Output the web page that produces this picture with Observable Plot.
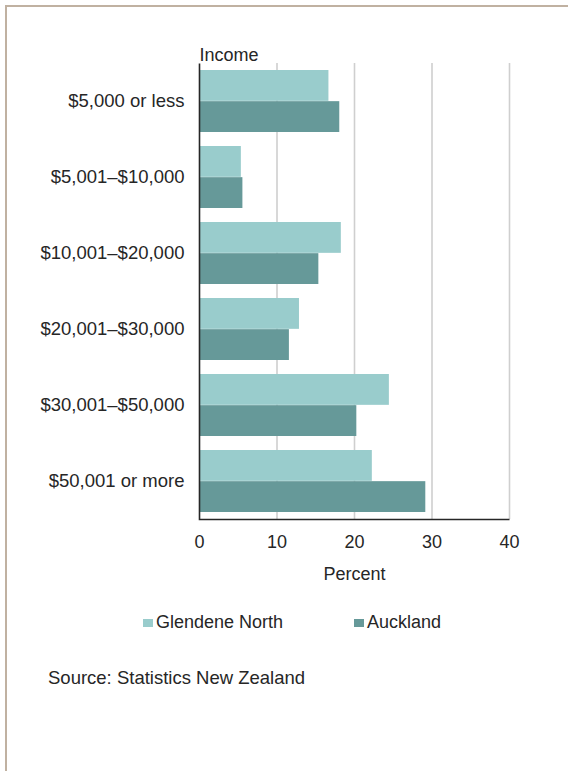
<!DOCTYPE html>
<html><head><meta charset="utf-8">
<script src="https://cdn.jsdelivr.net/npm/d3@7"></script>
<script src="https://cdn.jsdelivr.net/npm/@observablehq/plot@0.6"></script>
<style>
html,body{margin:0;padding:0;background:#fff;width:568px;height:771px;overflow:hidden;font-family:"Liberation Sans",Arial,sans-serif;color:#262626;}
#border{position:absolute;left:5px;top:5px;width:700px;height:900px;border-left:2px solid #c0b1a1;border-top:2px solid #c0b1a1;}
#chart{position:absolute;left:0;top:0;}
#legend{position:absolute;top:612px;left:0;width:568px;height:22px;font-size:18px;}
.item{position:absolute;display:flex;align-items:center;}
.sw{width:10px;height:8px;margin-right:3px;}
#source{position:absolute;left:48px;top:667px;font-size:18.5px;}
</style></head>
<body>
<div id="border"></div>
<div id="chart"></div>
<div id="legend"></div>
<div id="source">Source: Statistics New Zealand</div>
<script>
const categories = ["$5,000 or less","$5,001–$10,000","$10,001–$20,000","$20,001–$30,000","$30,001–$50,000","$50,001 or more"];
const seriesNames = ["Glendene North","Auckland"];
const glendene = [16.7, 5.4, 18.3, 12.9, 24.5, 22.3];
const auckland = [18.1, 5.6, 15.4, 11.6, 20.3, 29.2];
const xTicks = [0, 10, 20, 30, 40];
const colors = ["#99cccc","#669999"];

const W = 568, H = 600, mL = 199, mR = 59, mT = 63, mB = 81;
const w = W - mL - mR, h = H - mT - mB;
const padInner = 0.18, padOuter = 0.09;
const step = h / (categories.length - padInner + 2 * padOuter);
const band = step * (1 - padInner);
const half = band / 2;

const gData = categories.map((c, i) => ({cat: c, value: glendene[i]}));
const aData = categories.map((c, i) => ({cat: c, value: auckland[i]}));

const chart = Plot.plot({
  width: W, height: H,
  marginLeft: mL, marginRight: mR, marginTop: mT, marginBottom: mB,
  style: {fontFamily: '"Liberation Sans", Arial, sans-serif', fontSize: "18px", color: "#262626", background: "transparent"},
  x: {domain: [0, 40], ticks: xTicks, label: "Percent"},
  y: {domain: categories, paddingInner: padInner, paddingOuter: padOuter, label: null},
  marks: [
    Plot.ruleX(xTicks.slice(1), {stroke: "#cfcfcf", strokeWidth: 1.6}),
    Plot.barX(gData, {x: "value", y: "cat", fill: colors[0], insetBottom: half}),
    Plot.barX(aData, {x: "value", y: "cat", fill: colors[1], insetTop: half}),
    Plot.frame({stroke: "#262626", strokeWidth: 1.6, strokeDasharray: `0 ${w + h} ${w + h}`}),
    Plot.axisX({tickSize: 0, tickPadding: 16, label: "Percent", labelAnchor: "center", labelOffset: 60, labelArrow: "none", fontSize: 18, dx: 0}),
    Plot.axisY({tickSize: 0, tickPadding: 15, label: null, fontSize: 18.5}),
    Plot.text(["Income"], {frameAnchor: "top-left", textAnchor: "start", lineAnchor: "bottom", dy: -3, fontSize: 18, fill: "#262626"})
  ]
});
document.getElementById("chart").appendChild(chart);

const legend = document.getElementById("legend");
const positions = [143, 354];
seriesNames.forEach((s, i) => {
  const d = document.createElement("div");
  d.className = "item";
  d.style.left = positions[i] + "px";
  d.innerHTML = `<span class="sw" style="background:${colors[i]}"></span><span>${s}</span>`;
  legend.appendChild(d);
});
</script>
</body></html>
